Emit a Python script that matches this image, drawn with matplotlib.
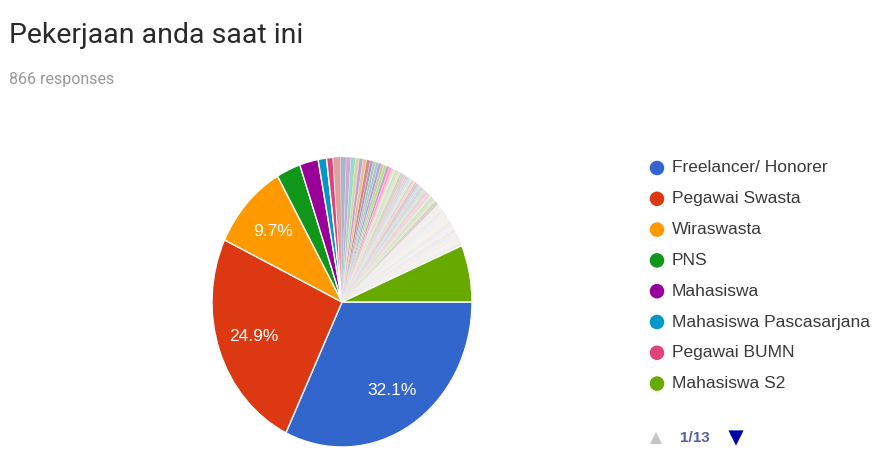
import matplotlib
matplotlib.use("Agg")
import matplotlib.pyplot as plt
import math

# ---- data ----
title = "Pekerjaan anda saat ini"
subtitle = "866 responses"
legend_labels = ["Freelancer/ Honorer", "Pegawai Swasta", "Wiraswasta", "PNS",
                 "Mahasiswa", "Mahasiswa Pascasarjana", "Pegawai BUMN", "Mahasiswa S2"]
legend_colors = ["#3366cc", "#dc3912", "#ff9900", "#109618",
                 "#990099", "#0099c6", "#dd4477", "#66aa00"]
# response counts of the big slices (in pie order)
main_counts = [278, 216, 84, 26, 20, 9, 7]
# the many small remaining answers (estimated)
small_counts = [8, 6, 5, 5, 4, 4, 4, 4, 3, 3, 3, 3, 3, 3, 3, 3,
                2, 2, 2, 2, 2, 2, 2, 2, 2, 2, 2, 2, 2, 2, 2,
                2, 2, 2, 2, 2, 2, 2, 2, 2, 2, 2, 2, 2, 2, 2,
                1, 1, 1, 1, 1, 1, 1, 1, 1, 1, 1, 1, 1, 1, 1, 1,
                1, 1, 1, 1, 1, 1, 1, 1, 1, 1, 1, 1, 1, 1, 1, 1,
                1, 1, 1, 1, 1, 1, 1, 1, 1, 1, 1, 1, 1, 1, 1]
last_count = 55  # Mahasiswa S2 slice
pct_labels = ["32.1%", "24.9%", "9.7%"]
page_label = "1/13"
small_palette = ["#b82e2e", "#316395", "#994499", "#22aa99", "#aaaa11", "#6633cc",
                 "#e67300", "#8b0707", "#651067", "#329262", "#5574a6", "#3b3eac",
                 "#b77322", "#16d620", "#b91383", "#f4359e", "#9c5935", "#a9c413",
                 "#2a778d", "#668d1c", "#bea413", "#0c5922", "#743411"]

W, H = 873, 450
fig = plt.figure(figsize=(W / 100, H / 100), dpi=100)
fig.patch.set_facecolor("white")

# pie axes (slightly taller than wide, like the reference)
cx, cy, rx, ry = 342, 302, 130, 145
ax = fig.add_axes([(cx - rx) / W, (H - cy - ry) / H, 2 * rx / W, 2 * ry / H])

values = main_counts + small_counts + [last_count]
colors = (legend_colors[:7]
          + [small_palette[i % len(small_palette)] for i in range(len(small_counts))]
          + [legend_colors[7]])

wedges, _ = ax.pie(values, colors=colors, startangle=0, counterclock=False,
                   radius=1, center=(0, 0), frame=False)
n_small = len(small_counts)
for i, w in enumerate(wedges):
    w.set_edgecolor("white")
    if 7 <= i < 7 + n_small:
        v = values[i]
        w.set_linewidth(0.4)
        w.set_alpha(0.45 if v >= 3 else (0.25 if v == 2 else 0.1))
    else:
        w.set_linewidth(1.0)
ax.set_aspect("auto")
ax.set_xlim(-1, 1)
ax.set_ylim(-1, 1)
ax.axis("off")

# percentage labels
total = sum(values)
start = 0.0
for i, lab in enumerate(pct_labels):
    frac = values[i] / total
    mid = start + frac / 2
    ang = -mid * 2 * math.pi
    ax.text(0.72 * math.cos(ang), 0.72 * math.sin(ang), lab, color="white",
            fontsize=12.5, family="Liberation Sans", ha="center", va="center")
    start += frac

# overlay in pixel coords
ov = fig.add_axes([0, 0, 1, 1])
ov.set_xlim(0, W)
ov.set_ylim(H, 0)
ov.axis("off")
ov.patch.set_alpha(0)

ov.text(9, 43, title, fontsize=20.5, family="Roboto", color="#2a2a2a", ha="left", va="baseline")
ov.text(9, 84, subtitle, fontsize=11.5, family="Roboto", color="#9a9a9a", ha="left", va="baseline")

y0, dy = 168, 30.8
for i, (lab, col) in enumerate(zip(legend_labels, legend_colors)):
    y = y0 + i * dy
    ov.scatter([657], [y], s=110, color=col, edgecolors="none")
    ov.text(672, y, lab, fontsize=12.5, family="Liberation Sans", color="#3a3a3a",
            ha="left", va="center")

ov.scatter([656], [438], marker="^", s=75, color="#c4c4c4", edgecolors="none")
ov.text(680, 438, page_label, fontsize=11, family="Liberation Sans", color="#2a3a8e",
        ha="left", va="center", fontweight="bold", alpha=0.8)
ov.scatter([736], [438], marker="v", s=120, color="#0000aa", edgecolors="none")

fig.savefig("out.png", dpi=100, facecolor="white")
